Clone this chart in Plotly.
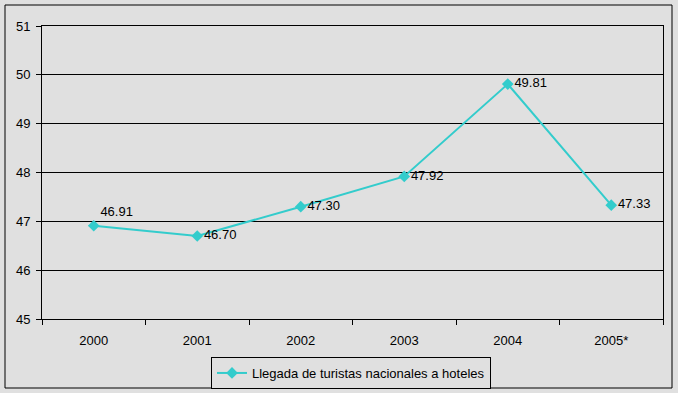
import plotly.graph_objects as go

years = ["2000", "2001", "2002", "2003", "2004", "2005*"]
values = [46.91, 46.70, 47.30, 47.92, 49.81, 47.33]
labels = ["46.91", "46.70", "47.30", "47.92", "49.81", "47.33"]
series_name = "Llegada de turistas nacionales a hoteles"
positions = ["top right", "middle right", "middle right", "middle right", "middle right", "middle right"]

L, R, T, B = 42, 663, 26, 319
W, H = 678, 393
pw, ph = R - L, B - T

def px(x):
    return (x - L) / pw

def py(y):
    return (B - y) / ph

bg = "#E0E0E0"
col = "#33CCCC"
fam = "Liberation Sans, Arial"

fig = go.Figure()
fig.add_trace(go.Scatter(
    x=years, y=values, mode="lines+markers+text", name=series_name,
    text=labels, textposition=positions,
    textfont=dict(family=fam, size=13, color="black"),
    line=dict(color=col, width=2),
    marker=dict(symbol="diamond", size=9, color=col),
    cliponaxis=False,
))

fig.update_layout(
    width=W, height=H, autosize=False,
    margin=dict(l=L, r=W - R, t=T, b=H - B, autoexpand=False),
    paper_bgcolor=bg, plot_bgcolor=bg,
    font=dict(family=fam, size=13, color="black"),
    showlegend=True,
    legend=dict(x=px(351), y=py(373), xanchor="center", yanchor="middle",
                orientation="h", bordercolor="black", borderwidth=1,
                bgcolor=bg, font=dict(size=13), itemwidth=30),
    xaxis=dict(type="category", showgrid=False, showline=True, linecolor="black",
               linewidth=1, mirror=True, ticks="outside", tickson="boundaries",
               ticklen=5, tickcolor="black", range=[-0.5, 5.5], fixedrange=True,
               ticklabelstandoff=9),
    yaxis=dict(range=[45, 51], dtick=1, showgrid=True, gridcolor="black",
               gridwidth=1, showline=True, linecolor="black", linewidth=1,
               mirror=True, ticks="outside", ticklen=5, tickcolor="black",
               zeroline=False, fixedrange=True, ticklabelstandoff=3),
    shapes=[dict(type="rect", xref="paper", yref="paper",
                 x0=px(5), x1=px(672), y0=py(388), y1=py(5),
                 line=dict(color="black", width=1), layer="below")],
)

js = (
    "document.documentElement.style.margin='0';"
    "document.documentElement.style.padding='0';"
    "document.documentElement.style.overflow='hidden';"
    "document.body.style.margin='0';"
    "document.body.style.padding='0';"
    "document.body.style.overflow='hidden';"
)

fig.write_html("out.html", config={"displayModeBar": False}, post_script=js)
